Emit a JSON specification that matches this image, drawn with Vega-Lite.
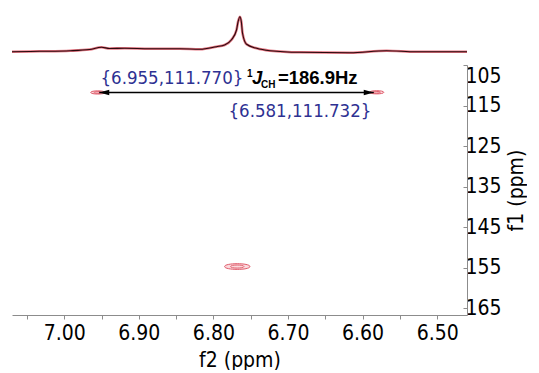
{
  "$schema": "https://vega.github.io/schema/vega-lite/v6.json",
  "padding": {"left": 6, "top": 10, "right": 0, "bottom": 0},
  "spacing": 10,
  "bounds": "flush",
  "config": {
    "view": {"stroke": null},
    "font": "'DejaVu Sans Condensed', 'Liberation Sans', sans-serif",
    "axis": {
      "grid": false,
      "domainColor": "#8c8c8c",
      "tickColor": "#8c8c8c",
      "domainWidth": 1,
      "tickWidth": 1,
      "labelColor": "#000000",
      "titleColor": "#000000",
      "labelFont": "'DejaVu Sans Condensed', 'Liberation Sans', sans-serif",
      "titleFont": "'DejaVu Sans Condensed', 'Liberation Sans', sans-serif",
      "labelFontSize": 21,
      "titleFontSize": 21,
      "titleFontWeight": "normal",
      "labelOverlap": false
    }
  },
  "datasets": {
    "projection": [
      {"f2": 7.070, "intensity": 3.3},
      {"f2": 7.033, "intensity": 3.7},
      {"f2": 6.992, "intensity": 4.3},
      {"f2": 6.966, "intensity": 5.5},
      {"f2": 6.950, "intensity": 7.7},
      {"f2": 6.939, "intensity": 6.5},
      {"f2": 6.919, "intensity": 6.7},
      {"f2": 6.885, "intensity": 6.3},
      {"f2": 6.845, "intensity": 6.3},
      {"f2": 6.818, "intensity": 5.7},
      {"f2": 6.796, "intensity": 8.3},
      {"f2": 6.785, "intensity": 10},
      {"f2": 6.776, "intensity": 15},
      {"f2": 6.769, "intensity": 25},
      {"f2": 6.767, "intensity": 33},
      {"f2": 6.7645, "intensity": 38.3},
      {"f2": 6.7625, "intensity": 33},
      {"f2": 6.761, "intensity": 22},
      {"f2": 6.7555, "intensity": 10.7},
      {"f2": 6.742, "intensity": 6.7},
      {"f2": 6.724, "intensity": 4.3},
      {"f2": 6.684, "intensity": 2.7},
      {"f2": 6.617, "intensity": 2.3},
      {"f2": 6.568, "intensity": 4.3},
      {"f2": 6.528, "intensity": 3.3},
      {"f2": 6.496, "intensity": 3.3},
      {"f2": 6.460, "intensity": 3.3}
    ],
    "satellites": [
      {"f2": 6.955, "f1": 111.770},
      {"f2": 6.581, "f1": 111.732}
    ],
    "centre": [
      {"f2": 6.768, "f1": 154.7}
    ],
    "coupling": [
      {"f2": 6.953, "f2_end": 6.585, "f1": 111.77}
    ]
  },
  "vconcat": [
    {
      "width": 455,
      "height": 45,
      "data": {"name": "projection"},
      "encoding": {
        "x": {"field": "f2", "type": "quantitative", "scale": {"domain": [7.07, 6.46], "zero": false, "nice": false}, "axis": null},
        "y": {"field": "intensity", "type": "quantitative", "scale": {"domain": [0, 45], "zero": false, "nice": false}, "axis": null}
      },
      "layer": [
        {"mark": {"type": "line", "color": "#d8394a", "strokeWidth": 2.6, "opacity": 0.7, "interpolate": "monotone"}},
        {"mark": {"type": "line", "color": "#2a0a0e", "strokeWidth": 1.1, "interpolate": "monotone"}}
      ]
    },
    {
      "width": 455,
      "height": 250,
      "layer": [
        {
          "data": {"name": "satellites"},
          "mark": {"type": "point", "shape": "M-1,0 C-1,-0.3 1,-0.3 1,0 C1,0.3 -1,0.3 -1,0 Z", "size": 200, "filled": true, "fill": "#fbd9dd", "stroke": "#e05a6a", "strokeWidth": 1, "opacity": 1},
          "encoding": {
            "x": {"field": "f2", "type": "quantitative", "scale": {"domain": [7.07, 6.46], "zero": false, "nice": false},
              "axis": {
                "title": "f2 (ppm)",
                "orient": "bottom",
                "values": [7.05, 7.025, 7.0, 6.975, 6.95, 6.925, 6.9, 6.875, 6.85, 6.825, 6.8, 6.775, 6.75, 6.725, 6.7, 6.675, 6.65, 6.625, 6.6, 6.575, 6.55, 6.525, 6.5, 6.475],
                "labelExpr": "abs(datum.value*10 - round(datum.value*10)) < 0.001 ? format(datum.value, '.2f') : ''",
                "tickSize": 4,
                "labelPadding": 3,
                "titlePadding": 6,
                "labelFlush": false
              }
            },
            "y": {"field": "f1", "type": "quantitative", "scale": {"domain": [166.65, 105], "zero": false, "nice": false},
              "axis": {
                "title": "f1 (ppm)",
                "orient": "right",
                "values": [105, 110, 115, 120, 125, 130, 135, 140, 145, 150, 155, 160, 165],
                "labelExpr": "datum.value % 10 == 5 ? datum.label : ''",
                "tickSize": -4,
                "labelPadding": 2,
                "labelFlush": true,
                "titleAngle": 270,
                "titleBaseline": "top",
                "titlePadding": 4
              }
            }
          }
        },
        {
          "data": {"name": "satellites"},
          "mark": {"type": "point", "shape": "M-1,0 C-1,-0.3 1,-0.3 1,0 C1,0.3 -1,0.3 -1,0 Z", "size": 50, "filled": false, "stroke": "#d8394a", "strokeWidth": 1},
          "encoding": {
            "x": {"field": "f2", "type": "quantitative"},
            "y": {"field": "f1", "type": "quantitative"}
          }
        },
        {
          "data": {"name": "centre"},
          "mark": {"type": "point", "shape": "M-1,0 C-1,-0.3 1,-0.3 1,0 C1,0.3 -1,0.3 -1,0 Z", "size": 640, "filled": true, "fill": "#fbd9dd", "stroke": "#e05a6a", "strokeWidth": 1, "opacity": 1},
          "encoding": {
            "x": {"field": "f2", "type": "quantitative"},
            "y": {"field": "f1", "type": "quantitative"}
          }
        },
        {
          "data": {"name": "centre"},
          "mark": {"type": "point", "shape": "M-1,0 C-1,-0.3 1,-0.3 1,0 C1,0.3 -1,0.3 -1,0 Z", "size": 180, "filled": false, "stroke": "#d8394a", "strokeWidth": 1},
          "encoding": {
            "x": {"field": "f2", "type": "quantitative"},
            "y": {"field": "f1", "type": "quantitative"}
          }
        },
        {
          "data": {"name": "coupling"},
          "mark": {"type": "rule", "color": "#000000", "strokeWidth": 1.5},
          "encoding": {
            "x": {"field": "f2", "type": "quantitative"},
            "x2": {"field": "f2_end"},
            "y": {"field": "f1", "type": "quantitative"}
          }
        },
        {
          "data": {"name": "coupling"},
          "mark": {"type": "point", "shape": "M0,0 L2,-0.55 L2,0.55 Z", "size": 100, "filled": true, "color": "#000000", "opacity": 1},
          "encoding": {
            "x": {"field": "f2", "type": "quantitative"},
            "y": {"field": "f1", "type": "quantitative"}
          }
        },
        {
          "data": {"name": "coupling"},
          "mark": {"type": "point", "shape": "M0,0 L-2,-0.55 L-2,0.55 Z", "size": 100, "filled": true, "color": "#000000", "opacity": 1},
          "encoding": {
            "x": {"field": "f2_end", "type": "quantitative"},
            "y": {"field": "f1", "type": "quantitative"}
          }
        },
        {
          "data": {"values": [{"label": "{6.955,111.770}", "f2": 6.8556, "f1": 109.69}]},
          "mark": {"type": "text", "align": "center", "baseline": "alphabetic", "fontSize": 18.5, "color": "#2e3192", "font": "'DejaVu Sans Condensed', 'Liberation Sans', sans-serif"},
          "encoding": {
            "x": {"field": "f2", "type": "quantitative"},
            "y": {"field": "f1", "type": "quantitative"},
            "text": {"field": "label"}
          }
        },
        {
          "data": {"values": [{"label": "{6.581,111.732}", "f2": 6.684, "f1": 117.82}]},
          "mark": {"type": "text", "align": "center", "baseline": "alphabetic", "fontSize": 18.5, "color": "#2e3192", "font": "'DejaVu Sans Condensed', 'Liberation Sans', sans-serif"},
          "encoding": {
            "x": {"field": "f2", "type": "quantitative"},
            "y": {"field": "f1", "type": "quantitative"},
            "text": {"field": "label"}
          }
        },
        {
          "data": {"values": [{"label": "1", "f2": 6.7549, "f1": 108.08}]},
          "mark": {"type": "text", "align": "left", "baseline": "alphabetic", "fontSize": 10, "fontWeight": "bold", "color": "#000000", "font": "'Liberation Sans', Arial, sans-serif"},
          "encoding": {
            "x": {"field": "f2", "type": "quantitative"},
            "y": {"field": "f1", "type": "quantitative"},
            "text": {"field": "label"}
          }
        },
        {
          "data": {"values": [{"label": "J", "f2": 6.7484, "f1": 109.69}]},
          "mark": {"type": "text", "align": "left", "baseline": "alphabetic", "fontSize": 18.5, "fontWeight": "bold", "fontStyle": "italic", "color": "#000000", "font": "'Liberation Sans', Arial, sans-serif"},
          "encoding": {
            "x": {"field": "f2", "type": "quantitative"},
            "y": {"field": "f1", "type": "quantitative"},
            "text": {"field": "label"}
          }
        },
        {
          "data": {"values": [{"label": "CH", "f2": 6.7363, "f1": 110.55}]},
          "mark": {"type": "text", "align": "left", "baseline": "alphabetic", "fontSize": 10, "fontWeight": "bold", "color": "#000000", "font": "'Liberation Sans', Arial, sans-serif"},
          "encoding": {
            "x": {"field": "f2", "type": "quantitative"},
            "y": {"field": "f1", "type": "quantitative"},
            "text": {"field": "label"}
          }
        },
        {
          "data": {"values": [{"label": "=186.9Hz", "f2": 6.7135, "f1": 109.69}]},
          "mark": {"type": "text", "align": "left", "baseline": "alphabetic", "fontSize": 18.5, "fontWeight": "bold", "color": "#000000", "font": "'Liberation Sans', Arial, sans-serif"},
          "encoding": {
            "x": {"field": "f2", "type": "quantitative"},
            "y": {"field": "f1", "type": "quantitative"},
            "text": {"field": "label"}
          }
        }
      ]
    }
  ],
  "resolve": {"scale": {"x": "independent", "y": "independent"}}
}
